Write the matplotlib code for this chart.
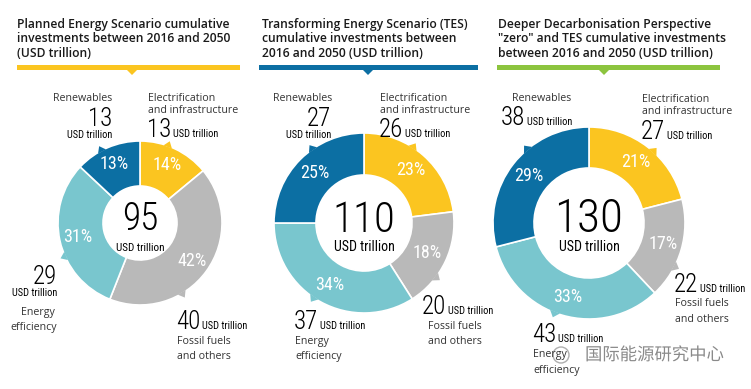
import numpy as np
import matplotlib.pyplot as plt
from matplotlib import font_manager as fm
from matplotlib.patches import Polygon, Rectangle, Circle
import matplotlib.patheffects as pe

W, H = 751, 389

# data
titles = [
    ["Planned Energy Scenario cumulative", "investments between 2016 and 2050", "(USD trillion)"],
    ["Transforming Energy Scenario (TES)", "cumulative investments between", "2016 and 2050 (USD trillion)"],
    ["Deeper Decarbonisation Perspective", "\"zero\" and TES cumulative investments", "between 2016 and 2050 (USD trillion)"],
]
totals = [95, 110, 130]
# order clockwise from top: electrification, fossil, efficiency, renewables
share_elec = [14, 23, 21]
share_fossil = [42, 18, 17]
share_eff = [31, 34, 33]
share_ren = [13, 25, 29]
usd_ren = [13, 27, 38]
usd_elec = [13, 26, 27]
usd_eff = [29, 37, 43]
usd_fossil = [40, 20, 22]

c_yellow = "#FBC520"
c_gray = "#B9B9B9"
c_teal = "#79C6CE"
c_blue = "#0C6FA3"
bar_colors = ["#FBC520", "#0C6FA3", "#8CC43E"]
txt = "#333333"

# pick the narrowest sans available for the numbers
names = {f.name for f in fm.fontManager.ttflist}
narrow_kw = None
for n in ["Roboto Condensed", "Liberation Sans Narrow", "Open Sans Condensed", "Arial Narrow"]:
    if n in names:
        narrow_kw = dict(family=[n, "DejaVu Sans"])
        shrink = 1.0
        break
if narrow_kw is None:
    if any(f.name == "DejaVu Sans" and "condensed" in str(f.stretch) for f in fm.fontManager.ttflist):
        narrow_kw = dict(family=["DejaVu Sans"], fontstretch="condensed")
    else:
        narrow_kw = dict(family=["Roboto", "DejaVu Sans"])
    shrink = 0.88
light_kw = dict(narrow_kw, fontweight="light")
sans = ["Open Sans", "DejaVu Sans"]

fig = plt.figure(figsize=(W / 100, H / 100), dpi=100)
ax = fig.add_axes([0, 0, 1, 1])
ax.set_xlim(0, W)
ax.set_ylim(0, H)


def Y(py):
    return H - py


# layout (pixels)
centers = [(140, 223), (364, 223), (589, 223)]
r_out = [82, 90, 96]
r_in = [37, 48, 55]
pct_dist = [0.78, 0.78, 0.8]
title_x = [17, 262, 498]
bar_x = [(17, 240), (259, 478), (497, 720)]
tri_x = [132, 368, 604]
notch_angles = [[70, -59, 204, 118], [57, -37, 236, 125], [48, -27, 249, 130]]

for i in range(3):
    # header
    for k, line in enumerate(titles[i]):
        ax.text(title_x[i], Y(27.5 + 14.5 * k), line, fontsize=8.7, family=sans,
                fontweight="semibold", color="#1a1a1a", va="baseline", ha="left")
    x0, x1 = bar_x[i]
    ax.add_patch(Rectangle((x0, Y(69.5)), x1 - x0, 4.5, color=bar_colors[i], lw=0))
    tx = tri_x[i]
    ax.add_patch(Polygon([(tx - 6, Y(69)), (tx + 6, Y(69)), (tx, Y(75))],
                         closed=True, color=bar_colors[i], lw=0))

    # donut
    cx, cy = centers[i]
    shares = [share_elec[i], share_fossil[i], share_eff[i], share_ren[i]]
    cols = [c_yellow, c_gray, c_teal, c_blue]
    ax.pie(shares, colors=cols, startangle=90, counterclock=False,
           radius=r_out[i], center=(cx, Y(cy)),
           wedgeprops=dict(width=r_out[i] - r_in[i], edgecolor="white", linewidth=1.2),
           autopct=lambda p: f"{p:.0f}%", pctdistance=pct_dist[i],
           textprops=dict(color="white", fontsize=13 * shrink, **narrow_kw))
    # little pointer tabs on the rim
    for a, col in zip(notch_angles[i], cols):
        R = r_out[i]
        t = np.radians(a)
        d = np.radians(3.2)
        pts = [(cx + (R - 1) * np.cos(t - d), Y(cy) + (R - 1) * np.sin(t - d)),
               (cx + (R + 5) * np.cos(t), Y(cy) + (R + 5) * np.sin(t)),
               (cx + (R - 1) * np.cos(t + d), Y(cy) + (R - 1) * np.sin(t + d))]
        ax.add_patch(Polygon(pts, closed=True, color=col, lw=0))

    big = [27, 31, 34][i] * shrink
    ax.text(cx, Y([230, 232, 232][i]), str(totals[i]), fontsize=big, color="black",
            ha="center", va="baseline", **light_kw)
    ax.text(cx, Y(251), "USD trillion", fontsize=[8, 10, 10][i] * shrink, color="black",
            ha="center", va="baseline", **narrow_kw)


def num_unit(x, y, v, size=18):
    # number with the unit written right after it on the same baseline
    t = ax.text(x, Y(y), str(v), fontsize=size * shrink, color="black",
                ha="left", va="baseline", **light_kw)
    ax.annotate("USD trillion", xy=(1, Y(y)), xycoords=(t, "data"), xytext=(1.5, 0),
                textcoords="offset points", fontsize=7.5 * shrink, color="black",
                ha="left", va="baseline", **narrow_kw)


def num_stack(x, y, v, ha, y_unit, size=18):
    ax.text(x, Y(y), str(v), fontsize=size * shrink, color="black",
            ha=ha, va="baseline", **light_kw)
    ax.text(x, Y(y_unit), "USD trillion", fontsize=7.5 * shrink, color="black",
            ha=ha, va="baseline", **narrow_kw)


def words(x, y, s, ha="left"):
    ax.text(x, Y(y), s, fontsize=7.7, family=sans, color=txt, ha=ha, va="baseline")


# panel 1 labels
words(112, 101, "Renewables", "right")
num_stack(112, 126, usd_ren[0], "right", 138)
words(148, 101, "Electrification")
words(148, 112.5, "and infrastructure")
num_unit(147, 137, usd_elec[0])
num_stack(57, 283.5, usd_eff[0], "right", 296)
words(55, 314.5, "Energy", "right")
words(57, 330, "efficiency", "right")
num_unit(176, 329, usd_fossil[0])
words(177, 344, "Fossil fuels")
words(177, 359, "and others")

# panel 2 labels
words(332, 101, "Renewables", "right")
num_stack(331, 126, usd_ren[1], "right", 138)
words(380, 101, "Electrification")
words(380, 112.5, "and infrastructure")
num_unit(379, 137, usd_elec[1])
num_unit(294, 329, usd_eff[1])
words(295, 344, "Energy")
words(295, 359, "efficiency")
num_unit(422, 314, usd_fossil[1])
words(428, 329, "Fossil fuels")
words(428, 344, "and others")

# panel 3 labels
words(571, 101, "Renewables", "right")
num_unit(501, 125, usd_ren[2])
words(642, 102, "Electrification")
words(642, 114, "and infrastructure")
num_unit(641, 139, usd_elec[2])
num_unit(674, 292, usd_fossil[2])
words(675, 306.5, "Fossil fuels")
words(675, 322, "and others")
num_unit(532, 342, usd_eff[2])
words(533, 357.5, "Energy")
words(533, 373, "efficiency")

# watermark
ax.add_patch(Circle((561, Y(355)), 8, fill=False, ec="#9a9a9a", lw=1, alpha=0.8))
ax.text(585, Y(355), "国际能源研究中心", fontsize=12.5,
        family=["Noto Sans CJK SC", "DejaVu Sans"], color="#8a8a8a", ha="left", va="center",
        path_effects=[pe.withStroke(linewidth=2, foreground="white")])

ax.set_xlim(0, W)
ax.set_ylim(0, H)
ax.set_aspect("equal")
ax.axis("off")
fig.savefig("out.png", dpi=100, facecolor="white")
